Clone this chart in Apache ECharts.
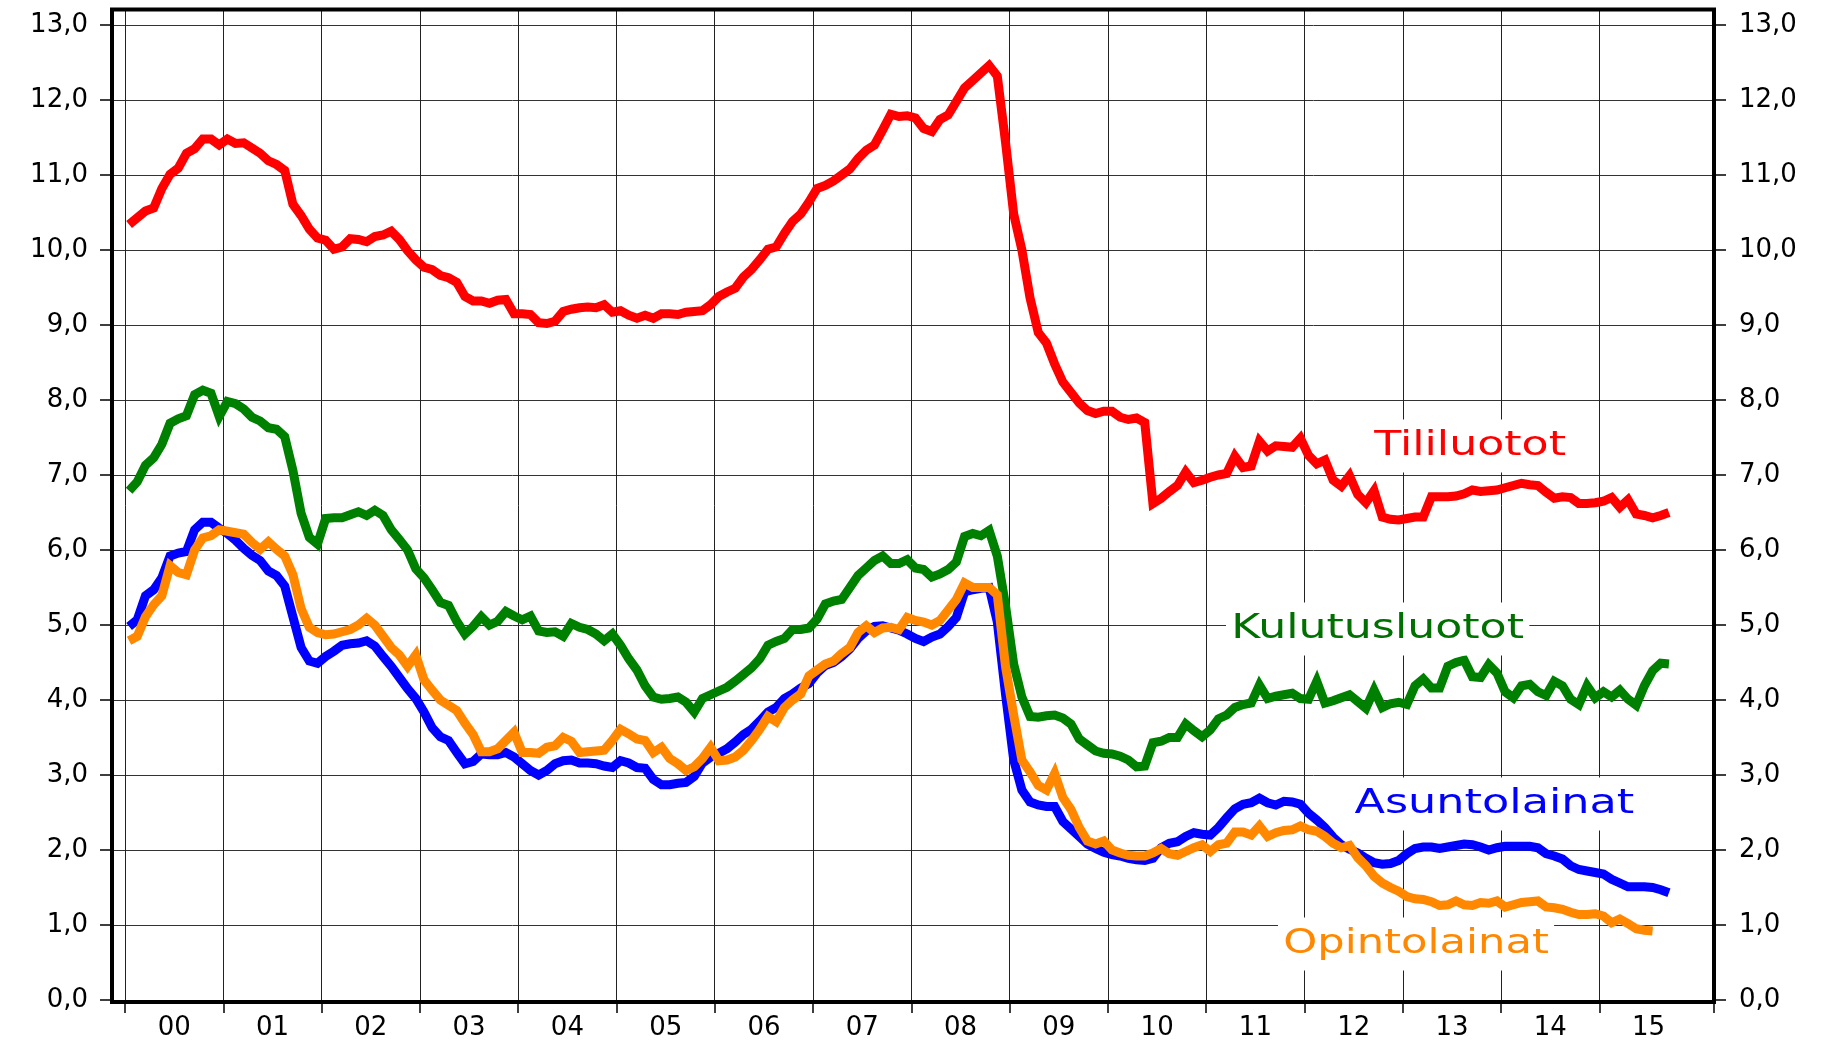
<!DOCTYPE html>
<html>
<head>
<meta charset="utf-8">
<title>Luottokantojen korot</title>
<script src="https://cdn.jsdelivr.net/npm/echarts@6/dist/echarts.min.js"></script>
<style>
  html, body { margin: 0; padding: 0; background: #fff; }
  #chart { width: 1834px; height: 1045px; }
</style>
</head>
<body>
<div id="chart"></div>
<script>
// kuukausiarvot tammikuu 2000 ->
const yearLabels = ["00", "01", "02", "03", "04", "05", "06", "07", "08", "09", "10", "11", "12", "13", "14", "15"];

const tililuotot = [
  10.34, 10.43, 10.52, 10.56, 10.82, 11.01, 11.09, 11.29, 11.35, 11.48, 11.48, 11.40,
  11.48, 11.42, 11.43, 11.36, 11.29, 11.19, 11.14, 11.06, 10.61, 10.46, 10.28, 10.16,
  10.13, 10.01, 10.04, 10.15, 10.14, 10.11, 10.18, 10.20, 10.25, 10.14, 9.99, 9.87,
  9.77, 9.74, 9.66, 9.63, 9.57, 9.38, 9.32, 9.32, 9.29, 9.33, 9.34, 9.15,
  9.15, 9.14, 9.03, 9.02, 9.05, 9.18, 9.21, 9.23, 9.24, 9.23, 9.27, 9.17,
  9.19, 9.13, 9.09, 9.13, 9.09, 9.15, 9.15, 9.14, 9.17, 9.18, 9.19, 9.27,
  9.38, 9.44, 9.49, 9.64, 9.74, 9.87, 10.01, 10.04, 10.22, 10.38, 10.48, 10.64,
  10.82, 10.86, 10.92, 11.00, 11.08, 11.22, 11.33, 11.40, 11.60, 11.81, 11.78, 11.79,
  11.76, 11.62, 11.58, 11.74, 11.80, 11.98, 12.16, 12.26, 12.36, 12.46, 12.32, 11.44,
  10.48, 10.00, 9.36, 8.90, 8.76, 8.48, 8.24, 8.10, 7.96, 7.86, 7.82, 7.85,
  7.85, 7.77, 7.74, 7.76, 7.70, 6.62, 6.69, 6.78, 6.86, 7.04, 6.90, 6.93,
  6.97, 7.00, 7.02, 7.25, 7.10, 7.12, 7.45, 7.32, 7.39, 7.38, 7.37, 7.49,
  7.26, 7.15, 7.20, 6.93, 6.85, 6.99, 6.74, 6.63, 6.79, 6.44, 6.41, 6.40,
  6.42, 6.44, 6.44, 6.71, 6.71, 6.71, 6.72, 6.75, 6.80, 6.78, 6.79, 6.80,
  6.83, 6.86, 6.89, 6.87, 6.86, 6.77, 6.69, 6.71, 6.70, 6.62, 6.62, 6.63,
  6.65, 6.70, 6.57, 6.67, 6.48, 6.46, 6.43, 6.46, 6.50
];

const kulutusluotot = [
  6.79, 6.91, 7.13, 7.23, 7.41, 7.69, 7.75, 7.79, 8.07, 8.13, 8.09, 7.78,
  7.98, 7.95, 7.88, 7.77, 7.72, 7.63, 7.61, 7.51, 7.06, 6.49, 6.17, 6.08,
  6.42, 6.43, 6.43, 6.47, 6.51, 6.46, 6.53, 6.46, 6.27, 6.14, 6.00, 5.75,
  5.63, 5.47, 5.30, 5.26, 5.05, 4.88, 4.98, 5.11, 5.00, 5.05, 5.18, 5.12,
  5.07, 5.12, 4.92, 4.90, 4.91, 4.85, 5.02, 4.97, 4.94, 4.88, 4.79, 4.88,
  4.73, 4.55, 4.40, 4.19, 4.04, 4.01, 4.02, 4.04, 3.97, 3.84, 4.02, 4.07,
  4.12, 4.17, 4.25, 4.34, 4.43, 4.55, 4.73, 4.78, 4.82, 4.94, 4.94, 4.96,
  5.08, 5.28, 5.32, 5.34, 5.50, 5.66, 5.76, 5.86, 5.92, 5.82, 5.82, 5.87,
  5.76, 5.74, 5.64, 5.68, 5.74, 5.84, 6.18, 6.22, 6.19, 6.26, 5.92, 5.26,
  4.48, 4.04, 3.78, 3.77, 3.79, 3.80, 3.76, 3.68, 3.48, 3.40, 3.32, 3.29,
  3.28, 3.25, 3.20, 3.11, 3.12, 3.43, 3.45, 3.50, 3.50, 3.68, 3.59, 3.51,
  3.60, 3.75, 3.80, 3.90, 3.94, 3.96, 4.20, 4.02, 4.05, 4.07, 4.09, 4.02,
  4.01, 4.25, 3.96, 3.99, 4.03, 4.07, 3.98, 3.89, 4.13, 3.90, 3.95, 3.97,
  3.94, 4.19, 4.28, 4.16, 4.16, 4.45, 4.50, 4.53, 4.31, 4.30, 4.47, 4.36,
  4.11, 4.03, 4.19, 4.21, 4.11, 4.06, 4.25, 4.19, 4.01, 3.94, 4.19, 4.03,
  4.11, 4.04, 4.13, 4.01, 3.93, 4.19, 4.39, 4.49, 4.48
];

const asuntolainat = [
  4.98, 5.07, 5.39, 5.47, 5.63, 5.92, 5.96, 5.98, 6.27, 6.37, 6.37, 6.29,
  6.22, 6.13, 6.02, 5.93, 5.86, 5.72, 5.66, 5.52, 5.11, 4.70, 4.52, 4.49,
  4.58, 4.65, 4.73, 4.75, 4.76, 4.79, 4.72, 4.58, 4.45, 4.30, 4.15, 4.02,
  3.84, 3.63, 3.51, 3.46, 3.30, 3.15, 3.18, 3.28, 3.27, 3.27, 3.30, 3.24,
  3.15, 3.06, 3.00, 3.06, 3.15, 3.19, 3.20, 3.16, 3.16, 3.15, 3.12, 3.10,
  3.19, 3.16, 3.10, 3.09, 2.94, 2.87, 2.87, 2.89, 2.90, 2.98, 3.16, 3.24,
  3.29, 3.35, 3.44, 3.54, 3.61, 3.72, 3.84, 3.90, 4.02, 4.08, 4.16, 4.22,
  4.36, 4.46, 4.50, 4.58, 4.68, 4.82, 4.92, 4.98, 4.99, 4.96, 4.93, 4.88,
  4.82, 4.78, 4.84, 4.88, 4.98, 5.10, 5.44, 5.47, 5.49, 5.50, 5.04, 4.08,
  3.20, 2.80, 2.64, 2.60, 2.58, 2.58, 2.38, 2.28, 2.18, 2.08, 2.02, 1.97,
  1.94, 1.92, 1.89, 1.87, 1.86, 1.89, 2.03, 2.09, 2.11, 2.18, 2.23, 2.21,
  2.20, 2.30, 2.43, 2.55, 2.61, 2.63, 2.69, 2.63, 2.60, 2.65, 2.64, 2.61,
  2.49, 2.40, 2.30, 2.17, 2.07, 2.01, 1.96, 1.89, 1.83, 1.81, 1.82, 1.86,
  1.95, 2.02, 2.04, 2.04, 2.02, 2.04, 2.06, 2.08, 2.07, 2.04, 2.00, 2.03,
  2.05, 2.05, 2.05, 2.05, 2.03, 1.95, 1.92, 1.88, 1.79, 1.74, 1.72, 1.70,
  1.68, 1.61, 1.56, 1.51, 1.51, 1.51, 1.50, 1.47, 1.43
];

const opintolainat = [
  4.79, 4.85, 5.11, 5.27, 5.39, 5.79, 5.70, 5.67, 6.00, 6.16, 6.19, 6.27,
  6.25, 6.23, 6.21, 6.10, 6.01, 6.11, 6.01, 5.92, 5.67, 5.22, 4.97, 4.90,
  4.87, 4.88, 4.91, 4.94, 5.00, 5.09, 5.00, 4.85, 4.70, 4.60, 4.45, 4.60,
  4.27, 4.13, 4.00, 3.93, 3.86, 3.69, 3.54, 3.31, 3.31, 3.35, 3.46, 3.57,
  3.30, 3.30, 3.29, 3.37, 3.39, 3.50, 3.45, 3.30, 3.31, 3.32, 3.33, 3.46,
  3.61, 3.55, 3.48, 3.46, 3.30, 3.37, 3.22, 3.15, 3.06, 3.11, 3.22, 3.37,
  3.19, 3.20, 3.24, 3.33, 3.46, 3.61, 3.78, 3.71, 3.90, 4.00, 4.08, 4.32,
  4.40, 4.48, 4.52, 4.62, 4.70, 4.90, 4.99, 4.90, 4.96, 4.97, 4.94, 5.10,
  5.06, 5.04, 5.00, 5.06, 5.20, 5.34, 5.56, 5.50, 5.50, 5.50, 5.40, 4.45,
  3.80, 3.20, 3.04, 2.86, 2.80, 3.02, 2.70, 2.54, 2.30, 2.12, 2.08, 2.12,
  2.00, 1.96, 1.93, 1.92, 1.92, 1.96, 2.02, 1.95, 1.93, 1.98, 2.03, 2.07,
  1.98, 2.07, 2.09, 2.24, 2.24, 2.20, 2.32, 2.18, 2.23, 2.26, 2.27, 2.32,
  2.27, 2.25, 2.18, 2.09, 2.03, 2.06, 1.90, 1.79, 1.65, 1.56, 1.50, 1.45,
  1.38, 1.35, 1.34, 1.31, 1.26, 1.27, 1.32, 1.27, 1.26, 1.30, 1.29, 1.32,
  1.24, 1.27, 1.30, 1.31, 1.32, 1.24, 1.23, 1.21, 1.17, 1.14, 1.14, 1.15,
  1.12, 1.03, 1.08, 1.02, 0.95, 0.93, 0.92
];

// kuukaudet 2000-01 ... 2016-02 (akselin loppu)
const months = [];
for (let y = 2000; months.length < 194; y++) {
  for (let m = 1; m <= 12 && months.length < 194; m++) {
    months.push(y + "-" + (m < 10 ? "0" + m : m));
  }
}

const FONT = "DejaVu Sans";
const yearStart = (idx) => idx % 12 === 0 && idx < 192;

const chart = echarts.init(document.getElementById("chart"), null, { renderer: "canvas" });

const yLabel = (v) => v.toFixed(1).replace(".", ",");

const option = {
  animation: false,
  backgroundColor: "#fff",
  grid: [
    // kehys
    { left: 112, right: 120, top: 9.5, bottom: 43, show: true, borderColor: "#000", borderWidth: 4, backgroundColor: "transparent", z: 3 },
    // vaakaviivat ja y-akselit
    { left: 112, right: 120, top: 25, bottom: 45 },
    // pystyviivat ja vuodet
    { left: 125, right: 120, top: 9.5, bottom: 43 },
    // sarjat
    { left: 125, right: 120, top: 25, bottom: 45 }
  ],
  xAxis: [
    { gridIndex: 0, type: "value", show: false },
    { gridIndex: 1, type: "value", show: false },
    {
      gridIndex: 2,
      type: "category",
      data: months,
      axisLine: { show: false },
      axisTick: { show: true, interval: yearStart, length: 11, lineStyle: { color: "#000", width: 1.5 } },
      splitLine: { show: true, interval: yearStart, lineStyle: { color: "#222", width: 1 } },
      axisLabel: {
        interval: (idx) => idx % 12 === 6 && idx < 192,
        formatter: (val) => yearLabels[Number(val.slice(0, 4)) - 2000],
        margin: 13,
        padding: [0, 8, 0, 0],
        color: "#000",
        fontSize: 26,
        fontFamily: FONT
      }
    },
    { gridIndex: 3, type: "category", data: months, show: false }
  ],
  yAxis: [
    { gridIndex: 0, type: "value", show: false },
    {
      gridIndex: 1,
      type: "value",
      position: "left",
      min: 0,
      max: 13,
      interval: 1,
      axisLine: { show: false },
      axisTick: { show: true, length: 12, lineStyle: { color: "#000", width: 1.5 } },
      axisLabel: { formatter: yLabel, margin: 24, color: "#000", fontSize: 26, fontFamily: FONT },
      splitLine: { show: true, lineStyle: { color: "#333", width: 1 } }
    },
    {
      gridIndex: 1,
      type: "value",
      position: "right",
      min: 0,
      max: 13,
      interval: 1,
      axisLine: { show: false },
      axisTick: { show: true, length: 12, lineStyle: { color: "#000", width: 1.5 } },
      axisLabel: { formatter: yLabel, margin: 25, color: "#000", fontSize: 26, fontFamily: FONT },
      splitLine: { show: false }
    },
    { gridIndex: 2, type: "value", show: false },
    { gridIndex: 3, type: "value", min: 0, max: 13, show: false }
  ],
  series: [
    { name: "Tililuotot", data: tililuotot, color: "#ff0000" },
    { name: "Kulutusluotot", data: kulutusluotot, color: "#008000" },
    { name: "Asuntolainat", data: asuntolainat, color: "#0000ff" },
    { name: "Opintolainat", data: opintolainat, color: "#ff8800" }
  ].map(s => ({
    name: s.name,
    type: "line",
    xAxisIndex: 3,
    yAxisIndex: 4,
    data: s.data,
    showSymbol: false,
    silent: true,
    clip: false,
    lineStyle: { color: s.color, width: 9, join: "miter" },
    itemStyle: { color: s.color }
  })),
  graphic: [
    { text: "Tililuotot", x: 1369, y: 446, sx: 1.34, color: "#ff0000" },
    { text: "Kulutusluotot", x: 1226, y: 629, sx: 1.34, color: "#007000" },
    { text: "Asuntolainat", x: 1349, y: 804, sx: 1.35, color: "#0000ff" },
    { text: "Opintolainat", x: 1278, y: 944, sx: 1.31, color: "#ff8800" }
  ].map(l => ({
    type: "text",
    x: l.x,
    y: l.y,
    scaleX: l.sx,
    z: 50,
    style: {
      text: l.text,
      fill: l.color,
      fontSize: 33,
      fontFamily: FONT,
      align: "left",
      verticalAlign: "middle",
      backgroundColor: "#fff",
      padding: [10, 4]
    }
  }))
};

chart.setOption(option);
</script>
</body>
</html>
